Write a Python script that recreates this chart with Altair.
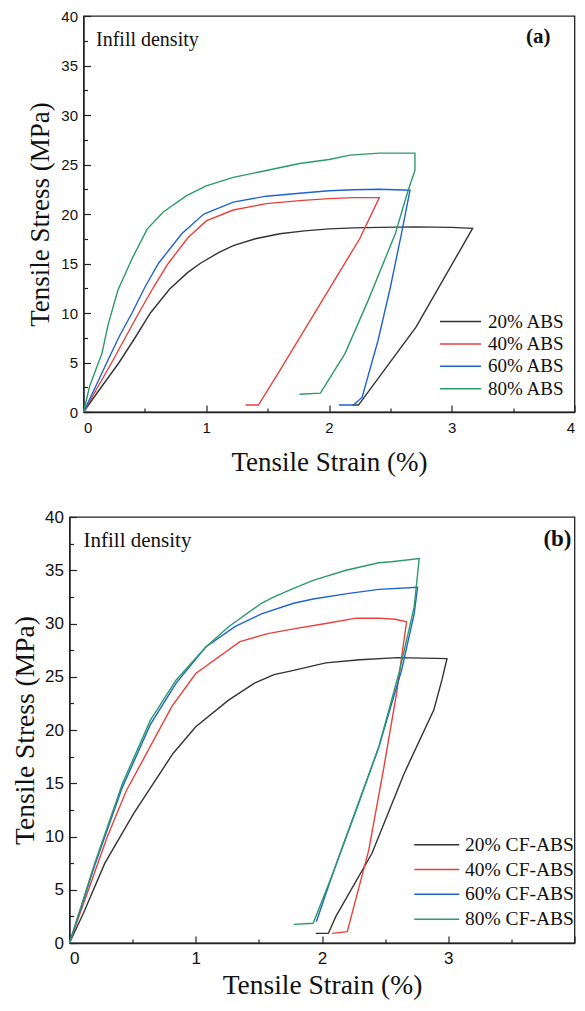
import altair as alt
import pandas as pd

# ---------------- text ----------------
STRAIN_TITLE = "Tensile Strain (%)"
STRESS_TITLE = "Tensile Stress (MPa)"
NOTE = "Infill density"

# ---------------- panel (a) : ABS ----------------
a_names = ["20% ABS", "40% ABS", "60% ABS", "80% ABS"]
a_tag = "(a)"
a20_x = [0, 0.15, 0.29, 0.42, 0.545, 0.7, 0.85, 0.95, 1.1, 1.22, 1.4, 1.6, 1.8, 2.0, 2.2, 2.41, 2.7, 3.0, 3.17, 2.71, 2.24, 2.19]
a20_y = [0, 2.6, 5.0, 7.5, 10.0, 12.4, 14.1, 15.0, 16.1, 16.8, 17.5, 18.0, 18.3, 18.5, 18.6, 18.65, 18.7, 18.65, 18.55, 8.6, 0.7, 0.7]
a40_x = [0, 0.12, 0.23, 0.34, 0.45, 0.57, 0.69, 0.85, 1.0, 1.22, 1.49, 1.76, 2.0, 2.2, 2.41, 2.25, 1.6, 1.425, 1.32]
a40_y = [0, 2.6, 5.0, 7.5, 10.0, 12.6, 15.0, 17.6, 19.3, 20.4, 21.05, 21.35, 21.55, 21.65, 21.65, 17.5, 4.2, 0.7, 0.7]
a60_x = [0, 0.1, 0.19, 0.29, 0.395, 0.5, 0.61, 0.8, 0.98, 1.22, 1.49, 1.76, 2.0, 2.2, 2.41, 2.66, 2.59, 2.5, 2.4, 2.27, 2.2, 2.08]
a60_y = [0, 2.6, 5.0, 7.6, 10.0, 12.6, 15.0, 18.0, 20.0, 21.2, 21.8, 22.1, 22.35, 22.45, 22.5, 22.4, 18.0, 12.6, 7.25, 1.5, 0.7, 0.7]
a80_x = [0, 0.05, 0.11, 0.15, 0.2, 0.28, 0.4, 0.52, 0.65, 0.84, 1.0, 1.22, 1.49, 1.76, 2.0, 2.17, 2.41, 2.7, 2.7, 2.645, 2.54, 2.32, 2.13, 1.93, 1.76]
a80_y = [0, 2.6, 4.6, 5.9, 8.8, 12.3, 15.6, 18.5, 20.2, 21.85, 22.85, 23.7, 24.4, 25.1, 25.5, 25.95, 26.15, 26.15, 24.4, 22.4, 18.0, 11.3, 5.9, 1.9, 1.8]

# ---------------- panel (b) : CF-ABS ----------------
b_names = ["20% CF-ABS", "40% CF-ABS", "60% CF-ABS", "80% CF-ABS"]
b_tag = "(b)"
b20_x = [0, 0.11, 0.28, 0.51, 0.82, 1.0, 1.26, 1.465, 1.62, 1.775, 2.03, 2.3, 2.6, 2.99, 2.95, 2.886, 2.65, 2.395, 2.11, 2.05, 1.95]
b20_y = [0, 2.8, 7.5, 12.2, 17.8, 20.3, 22.8, 24.4, 25.2, 25.6, 26.3, 26.6, 26.8, 26.7, 24.7, 21.9, 15.9, 8.4, 2.5, 0.9, 0.9]
b40_x = [0, 0.15, 0.3, 0.45, 0.61, 0.81, 1.0, 1.35, 1.57, 1.775, 2.03, 2.27, 2.45, 2.58, 2.67, 2.59, 2.49, 2.37, 2.2, 2.08]
b40_y = [0, 5.0, 10.0, 14.3, 17.8, 22.2, 25.3, 28.3, 29.05, 29.5, 30.0, 30.5, 30.5, 30.4, 30.15, 23.4, 16.5, 8.7, 1.06, 0.9]
b60_x = [0, 0.2, 0.42, 0.64, 0.845, 1.08, 1.31, 1.52, 1.775, 1.93, 2.2, 2.45, 2.757, 2.73, 2.63, 2.45, 2.085, 1.955]
b60_y = [0, 7.3, 14.66, 20.5, 24.4, 27.8, 29.7, 30.9, 31.9, 32.3, 32.8, 33.2, 33.4, 30.9, 25.6, 18.4, 6.5, 2.0]
b80_x = [0, 0.2, 0.42, 0.64, 0.845, 1.08, 1.26, 1.52, 1.62, 1.775, 1.93, 2.19, 2.45, 2.55, 2.77, 2.73, 2.615, 2.45, 2.29, 2.085, 1.93, 1.775]
b80_y = [0, 7.5, 15.0, 20.9, 24.7, 27.8, 29.7, 31.9, 32.5, 33.3, 34.05, 35.0, 35.7, 35.8, 36.1, 31.55, 25.6, 18.4, 13.1, 6.5, 1.85, 1.75]

colors = ["#333333", "#e8413c", "#1f63d1", "#2b9a68"]
x_major = [0, 1, 2, 3, 4]
x_minor = [0.5, 1.5, 2.5, 3.5]
y_major = [0, 5, 10, 15, 20, 25, 30, 35, 40]
y_minor = [2.5, 7.5, 12.5, 17.5, 22.5, 27.5, 32.5, 37.5]
a_xlabels = [0, 1, 2, 3, 4]
b_xlabels = [0, 1, 2, 3]

SERIF = "Liberation Serif"
SANS = "Liberation Sans"
INK = "#222222"


def frame(names, xs, ys):
    rows = []
    for n, sx, sy in zip(names, xs, ys):
        for i, (a, b) in enumerate(zip(sx, sy)):
            rows.append({"series": n, "strain": a, "stress": b, "i": i})
    return pd.DataFrame(rows)


def panel(df, names, tag, xlabels, o):
    xs = alt.Scale(domain=[0, 4], nice=False, zero=False)
    ys = alt.Scale(domain=[0, 40], nice=False, zero=False)
    main = alt.Chart(df).mark_line(strokeWidth=1.4).encode(
        x=alt.X("strain:Q", scale=xs, axis=alt.Axis(
            orient="bottom", values=xlabels, format="d", ticks=False, tickSize=0,
            grid=False, domainColor=INK, domainWidth=1.3,
            labelFont=SANS, labelFontSize=o["tick_fs"], labelColor="#111",
            labelPadding=o["xlp"], title=STRAIN_TITLE, titleFont=SERIF,
            titleFontSize=o["title_fs"], titleFontWeight="normal", titleColor="#111",
            titlePadding=o["xtp"])),
        y=alt.Y("stress:Q", scale=ys, axis=alt.Axis(
            orient="left", values=y_major, format="d", ticks=False, tickSize=0,
            grid=False, domainColor=INK, domainWidth=1.3,
            labelFont=SANS, labelFontSize=o["tick_fs"], labelColor="#111",
            labelPadding=o["ylp"], title=STRESS_TITLE, titleFont=SERIF,
            titleFontSize=o["title_fs"], titleFontWeight="normal", titleColor="#111",
            titlePadding=o["ytp"])),
        color=alt.Color("series:N", scale=alt.Scale(domain=names, range=colors),
                        legend=alt.Legend(
                            orient="none", legendX=o["lx"], legendY=o["ly"], title=None,
                            symbolType="M-3,0H3", symbolSize=o["lsize"],
                            symbolStrokeWidth=1.5, labelFont=SERIF,
                            labelFontSize=o["lfs"], labelColor="#111",
                            labelOffset=o["loff"], rowPadding=o["lrow"], padding=0,
                            direction="vertical")),
        order=alt.Order("i:Q"),
    )

    def ticks(vx, vy, size):
        return alt.Chart(df).mark_line(strokeOpacity=0).encode(
            x=alt.X("strain:Q", scale=xs, axis=alt.Axis(
                orient="bottom", values=vx, offset=-size, tickSize=size, tickWidth=1.2,
                tickColor=INK, labels=False, domain=False, grid=False, title=None)),
            y=alt.Y("stress:Q", scale=ys, axis=alt.Axis(
                orient="left", values=vy, offset=-size, tickSize=size, tickWidth=1.2,
                tickColor=INK, labels=False, domain=False, grid=False, title=None)),
            detail="series:N",
            order=alt.Order("i:Q"),
        )

    note = alt.Chart(pd.DataFrame({"t": [NOTE]})).mark_text(
        font=SERIF, fontSize=o["note_fs"], align="left", baseline="alphabetic", color="#111"
    ).encode(text="t:N", x=alt.value(o["note_x"]), y=alt.value(o["note_y"]))
    tagc = alt.Chart(pd.DataFrame({"t": [tag]})).mark_text(
        font=SERIF, fontSize=o["tag_fs"], fontWeight="bold", align="right",
        baseline="alphabetic", color="#111"
    ).encode(text="t:N", x=alt.value(o["tag_x"]), y=alt.value(o["tag_y"]))

    return alt.layer(
        main, ticks(x_major, y_major, 7), ticks(x_minor, y_minor, 4), note, tagc
    ).resolve_axis(x="independent", y="independent").properties(
        width=o["w"], height=o["h"],
        view=alt.ViewBackground(stroke=INK, strokeWidth=1.3),
    )


df_a = frame(a_names, [a20_x, a40_x, a60_x, a80_x], [a20_y, a40_y, a60_y, a80_y])
df_b = frame(b_names, [b20_x, b40_x, b60_x, b80_x], [b20_y, b40_y, b60_y, b80_y])

top = panel(df_a, a_names, a_tag, a_xlabels, dict(
    w=491, h=396, tick_fs=15, title_fs=27, xlp=8, xtp=14, ylp=6, ytp=6,
    note_fs=20, note_x=12.5, note_y=30, tag_fs=21, tag_x=467, tag_y=27,
    lx=381.5, ly=296, lsize=187, loff=18, lrow=2.4, lfs=19))

bottom = panel(df_b, b_names, b_tag, b_xlabels, dict(
    w=505, h=426, tick_fs=17, title_fs=27.5, xlp=7, xtp=5, ylp=6, ytp=5.5,
    note_fs=21, note_x=14, note_y=30, tag_fs=23, tag_x=502, tag_y=29,
    lx=357.5, ly=318, lsize=225, loff=18.5, lrow=3.8, lfs=19.5))

spacer = alt.Chart(pd.DataFrame({"s": [0]})).mark_point(opacity=0).properties(width=14, height=10)

row_top = alt.hconcat(spacer, top, spacing=0, bounds="flush")

chart = alt.vconcat(row_top, bottom, spacing=31).resolve_scale(
    color="independent", x="independent", y="independent"
).properties(
    padding={"left": 1.5, "top": 0, "right": 0, "bottom": 0},
    background="white",
).configure_view(stroke="transparent")

chart.save("out.html", embed_options={"renderer": "svg", "actions": False})
